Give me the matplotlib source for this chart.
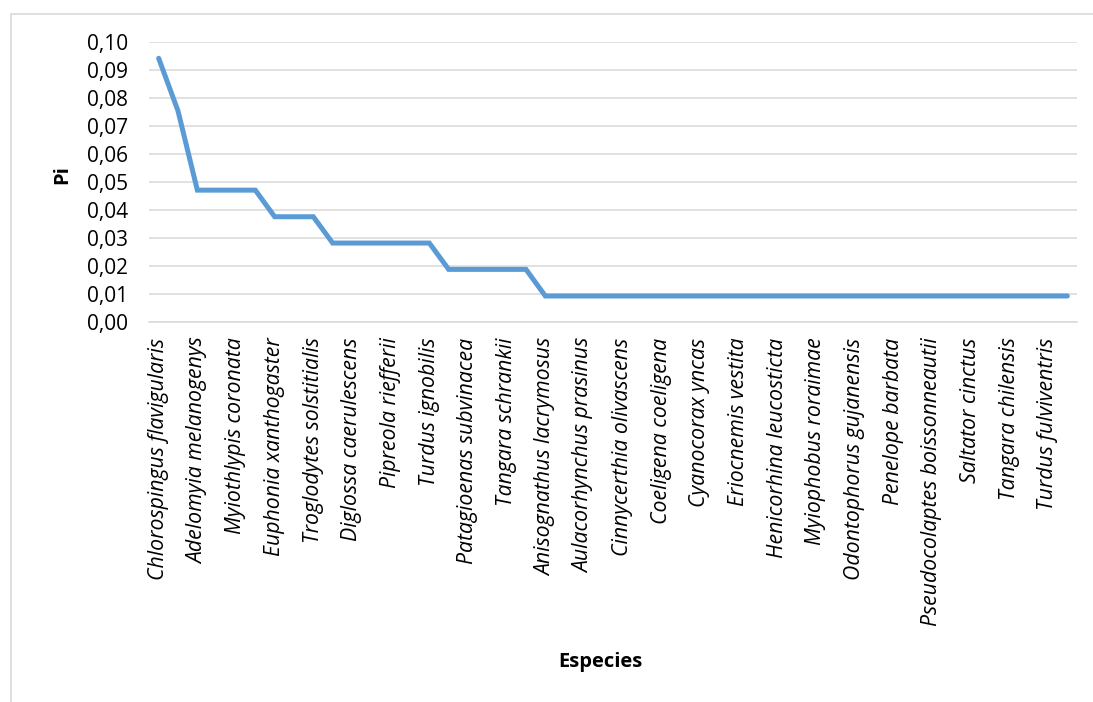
import numpy as np
import matplotlib
matplotlib.use("Agg")
import matplotlib.pyplot as plt
from matplotlib.patches import Rectangle

plt.rcParams['font.family'] = ['Open Sans', 'DejaVu Sans']

# relative abundance (Pi) for the 48 species, ranked
pi = ([0.0943, 0.0755]
      + [0.0472] * 4
      + [0.0377] * 3
      + [0.0283] * 6
      + [0.0189] * 5
      + [0.0094] * 28)

# only every second species name is shown on the axis
tick_labels = [
    "Chlorospingus flavigularis", "Adelomyia melanogenys", "Myiothlypis coronata",
    "Euphonia xanthogaster", "Troglodytes solstitialis", "Diglossa caerulescens",
    "Pipreola riefferii", "Turdus ignobilis", "Patagioenas subvinacea",
    "Tangara schrankii", "Anisognathus lacrymosus", "Aulacorhynchus prasinus",
    "Cinnycerthia olivascens", "Coeligena coeligena", "Cyanocorax yncas",
    "Eriocnemis vestita", "Henicorhina leucosticta", "Myiophobus roraimae",
    "Odontophorus gujanensis", "Penelope barbata", "Pseudocolaptes boissonneautii",
    "Saltator cinctus", "Tangara chilensis", "Turdus fulviventris",
]
yticks = np.arange(0, 0.101, 0.01)

W, H = 1093, 702
fig = plt.figure(figsize=(W / 100, H / 100), dpi=100)
ax = fig.add_axes([149 / W, 1 - 322.3 / H, (1077 - 149) / W, (322.3 - 42.3) / H])

x = np.arange(len(pi))
ax.plot(x, pi, color='#5B9BD5', lw=3.6, solid_capstyle='round', solid_joinstyle='miter', zorder=3)

ax.set_xlim(-0.5, len(pi) - 0.5)
ax.set_ylim(0, 0.10)
ax.set_yticks(yticks)
ax.set_yticklabels([f"{v:.2f}".replace('.', ',') for v in yticks], fontsize=15)
ax.set_xticks(x[::2])
ax.set_xticklabels(tick_labels, rotation=90, fontstyle='italic', fontsize=15.3,
                   va='top', ha='center')
ax.tick_params(axis='both', length=0)
ax.tick_params(axis='y', pad=15)
ax.tick_params(axis='x', pad=11)

ax.grid(axis='y', color='#D9D9D9', lw=1.1)
ax.set_axisbelow(True)
for s in ['top', 'right', 'left']:
    ax.spines[s].set_visible(False)
ax.spines['bottom'].set_color('#D9D9D9')
ax.spines['bottom'].set_linewidth(1.1)

fig.text(62 / W, 1 - 175 / H, 'Pi', rotation=90, fontsize=14.5, fontweight='bold',
         ha='center', va='center')
fig.text(600 / W, 1 - 662 / H, 'Especies', fontsize=14.5, fontweight='bold',
         ha='center', va='center')

# chart frame
fig.add_artist(Rectangle((11 / W, -0.1), 1.2, (H - 14) / H + 0.1, transform=fig.transFigure,
                         fill=False, edgecolor='#D9D9D9', lw=1.2))

fig.savefig('out.png', dpi=100)
